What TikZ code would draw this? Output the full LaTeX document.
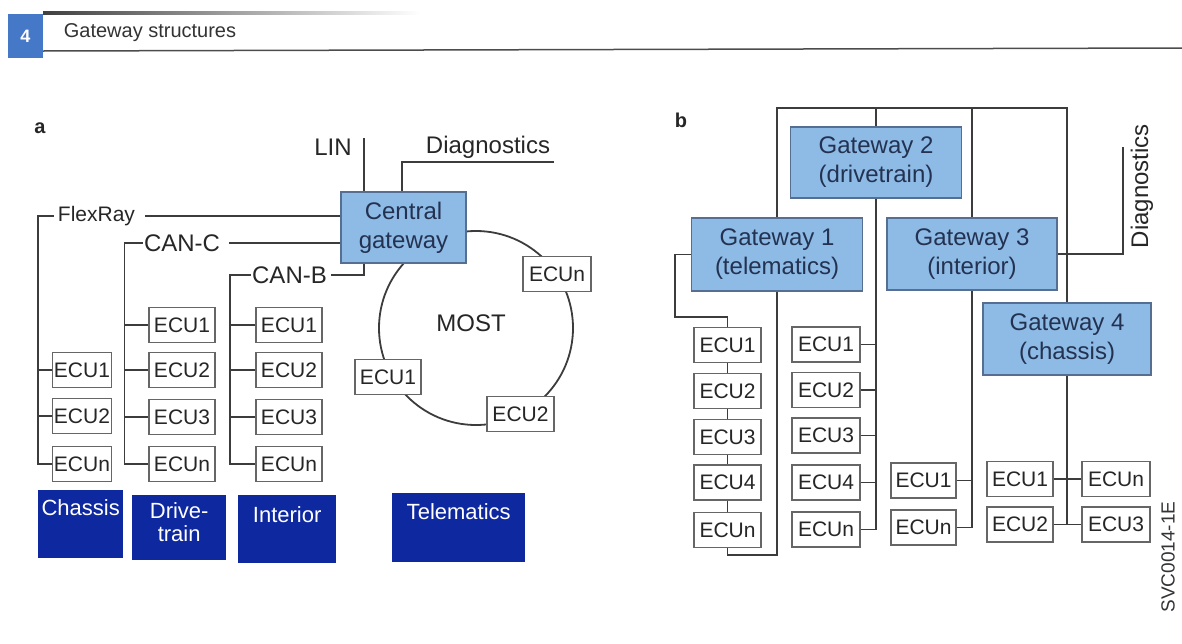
\documentclass[tikz,border=0pt]{standalone}
\usepackage{fontspec}
\setmainfont{Liberation Sans}
\definecolor{gwfill}{RGB}{142,186,230}
\definecolor{gwdraw}{RGB}{85,110,145}
\definecolor{gwtext}{RGB}{35,50,80}
\definecolor{domblue}{RGB}{14,40,160}
\definecolor{hdrblue}{RGB}{70,120,200}
\definecolor{linec}{RGB}{60,60,60}
\tikzset{
 bus/.style={draw=linec, line width=1.8pt},
 ecu/.style={draw=black!60, fill=white, line width=1.2pt, inner sep=0pt, minimum height=35pt, font=\fontsize{21}{23}\selectfont, text=black!85},
 gw/.style={draw=gwdraw, fill=gwfill, line width=1.2pt, inner sep=0pt, align=center, text=gwtext, font=\fontsize{24}{29}\selectfont},
 lbl/.style={inner sep=0pt, text=black!85, font=\fontsize{24}{28}\selectfont},
 dombox/.style={fill=domblue, inner sep=0pt, anchor=north west},
 domtxt/.style={text=white, inner sep=0pt, align=center, anchor=north, font=\fontsize{22}{23}\selectfont},
 panel/.style={inner sep=0pt, font=\fontsize{20}{22}\selectfont\bfseries, text=black!85},
}
\begin{document}
\begin{tikzpicture}[x=1pt,y=-1pt]
\useasboundingbox (0,0) rectangle (1182,643);
% ---------- header ----------
\shade[left color=black!75, right color=white] (43,11) rectangle (420,14);
\draw[black!70, line width=1.5pt] (43,51) -- (1182,48);
\fill[hdrblue] (8,14) rectangle (43,58);
\node[text=white, inner sep=0pt, font=\fontsize{18}{20}\selectfont\bfseries] (num) at (25.5,36) {4};
\node[inner sep=0pt, text=black!80, font=\fontsize{20}{22}\selectfont] (title) at (150,33) {Gateway structures};

% ---------- panel a ----------
\node[panel] (pa) at (40,128) {a};
\coordinate (mostc) at (476,328);
\draw[bus] (mostc) circle (97);
\node[lbl] (most) at (471,323) {MOST};

\node[gw, minimum width=125pt, minimum height=71pt] (cg) at (403.5,227.5) {Central\\gateway};

\node[lbl] (lin) at (333,147) {LIN};
\coordinate (linTop) at (364,138);
\draw[bus] (linTop) -- (linTop |- cg.north);

\node[lbl] (diagA) at (488,147) {Diagnostics};
\coordinate (diagAEnd) at (554,162);
\coordinate (diagAX) at (402,162);
\draw[bus] (diagAEnd) -- (diagAX) -- (diagAX |- cg.north);

\node[lbl, font=\fontsize{21}{24}\selectfont] (fr) at (96.5,216) {FlexRay};
\node[lbl] (canc) at (182,243) {CAN-C};
\node[lbl] (canb) at (289.5,275) {CAN-B};

% chassis ECUs
\node[ecu, minimum width=59pt] (ch1) at (82,370) {ECU1};
\node[ecu, minimum width=59pt] (ch2) at (82,416) {ECU2};
\node[ecu, minimum width=59pt] (ch3) at (82,464) {ECUn};
% drivetrain ECUs
\node[ecu, minimum width=66pt] (dt1) at (182,325) {ECU1};
\node[ecu, minimum width=66pt] (dt2) at (182,370) {ECU2};
\node[ecu, minimum width=66pt] (dt3) at (182,417) {ECU3};
\node[ecu, minimum width=66pt] (dt4) at (182,464) {ECUn};
% interior ECUs
\node[ecu, minimum width=66pt] (in1) at (289,325) {ECU1};
\node[ecu, minimum width=66pt] (in2) at (289,370) {ECU2};
\node[ecu, minimum width=66pt] (in3) at (289,417) {ECU3};
\node[ecu, minimum width=66pt] (in4) at (289,464) {ECUn};
% MOST ECUs
\node[ecu, minimum width=66pt] (m1) at (388,377) {ECU1};
\node[ecu, minimum width=67pt] (m2) at (520.5,414) {ECU2};
\node[ecu, minimum width=68pt] (mn) at (557,274) {ECUn};

% FlexRay bus
\coordinate (chBus) at (38,0);
\draw[bus] ([xshift=10pt]fr.east) -- (cg.west |- fr.east);
\draw[bus] ([xshift=-4pt]fr.west) -- (fr.west -| chBus) -- (chBus |- ch3) -- (ch3.west);
\draw[bus] (chBus |- ch1) -- (ch1.west);
\draw[bus] (chBus |- ch2) -- (ch2.west);
% CAN-C bus
\coordinate (dtBus) at (124.5,0);
\draw[bus] ([xshift=9pt]canc.east) -- (cg.west |- canc.east);
\draw[bus] ([xshift=-1pt]canc.west) -- (canc.west -| dtBus) -- (dtBus |- dt4) -- (dt4.west);
\draw[bus] (dtBus |- dt1) -- (dt1.west);
\draw[bus] (dtBus |- dt2) -- (dt2.west);
\draw[bus] (dtBus |- dt3) -- (dt3.west);
% CAN-B bus
\coordinate (inBus) at (230,0);
\draw[bus] ([xshift=4pt]canb.east) -- (linTop |- canb.east) -- (linTop |- cg.south);
\draw[bus] ([xshift=-1pt]canb.west) -- (canb.west -| inBus) -- (inBus |- in4) -- (in4.west);
\draw[bus] (inBus |- in1) -- (in1.west);
\draw[bus] (inBus |- in2) -- (in2.west);
\draw[bus] (inBus |- in3) -- (in3.west);

% domain boxes
\node[dombox, minimum width=85pt, minimum height=68pt] (dch) at (38,490) {};
\node[domtxt] (dchT) at ([yshift=-9pt]dch.north) {Chassis};
\node[dombox, minimum width=94pt, minimum height=65pt] (ddt) at (132,495) {};
\node[domtxt] (ddtT) at ([yshift=-7pt]ddt.north) {Drive-\\train};
\node[dombox, minimum width=98pt, minimum height=68pt] (din) at (238,495) {};
\node[domtxt] (dinT) at ([yshift=-11pt]din.north) {Interior};
\node[dombox, minimum width=133pt, minimum height=69pt] (dtm) at (392,493) {};
\node[domtxt] (dtmT) at ([yshift=-10pt]dtm.north) {Telematics};

% ---------- panel b ----------
\node[panel] (pb) at (681,120) {b};
\node[gw, minimum width=171pt, minimum height=71pt] (g2) at (876,162.5) {Gateway 2\\(drivetrain)};
\node[gw, minimum width=171pt, minimum height=73pt] (g1) at (777,254.5) {Gateway 1\\(telematics)};
\node[gw, minimum width=170pt, minimum height=72pt] (g3) at (972,254) {Gateway 3\\(interior)};
\node[gw, minimum width=168pt, minimum height=72pt] (g4) at (1067,339) {Gateway 4\\(chassis)};

\coordinate (topbus) at (0,108);
\draw[bus] (g1.north) -- (g1.north |- topbus) -- (g4.north |- topbus) -- (g4.north);
\draw[bus] (g2.north) -- (g2.north |- topbus);
\draw[bus] (g3.north) -- (g3.north |- topbus);

% diagnostics b
\node[lbl, rotate=90] (diagB) at (1142,186) {Diagnostics};
\coordinate (diagBTop) at (1123,147);
\draw[bus] (g3.east) -- (diagBTop |- g3.east) -- (diagBTop);

% column 1 (telematics)
\node[ecu, minimum width=67pt] (a1) at (727.5,345) {ECU1};
\node[ecu, minimum width=67pt] (a2) at (727.5,391) {ECU2};
\node[ecu, minimum width=67pt] (a3) at (727.5,437) {ECU3};
\node[ecu, minimum width=67pt] (a4) at (727.5,482.5) {ECU4};
\node[ecu, minimum width=67pt] (a5) at (727.5,530) {ECUn};
\draw[bus] (a1.south) -- (a2.north);
\draw[bus] (a2.south) -- (a3.north);
\draw[bus] (a3.south) -- (a4.north);
\draw[bus] (a4.south) -- (a5.north);
\coordinate (g1left) at (675,0);
\coordinate (g1turn) at (0,317);
\draw[bus] (g1.west) -- (g1.west -| g1left) -- (g1left |- g1turn) -- (a1.north |- g1turn) -- (a1.north);
\coordinate (g1bot) at (0,555);
\draw[bus] (g1.south) -- (g1.south |- g1bot) -- (a5.south |- g1bot) -- (a5.south);

% column 2 (drivetrain)
\node[ecu, minimum width=68pt] (b1) at (826,344.5) {ECU1};
\node[ecu, minimum width=68pt] (b2) at (826,390) {ECU2};
\node[ecu, minimum width=68pt] (b3) at (826,435.5) {ECU3};
\node[ecu, minimum width=68pt] (b4) at (826,482.5) {ECU4};
\node[ecu, minimum width=68pt] (b5) at (826,529.5) {ECUn};
\draw[bus] (g2.south) -- (g2.south |- b5) -- (b5.east);
\draw[bus] (b1.east) -- (b1 -| g2.south);
\draw[bus] (b2.east) -- (b2 -| g2.south);
\draw[bus] (b3.east) -- (b3 -| g2.south);
\draw[bus] (b4.east) -- (b4 -| g2.south);

% column 3 (interior)
\node[ecu, minimum width=65pt] (c1) at (923.5,480.5) {ECU1};
\node[ecu, minimum width=65pt] (c2) at (923.5,527.5) {ECUn};
\draw[bus] (g3.south) -- (g3.south |- c2) -- (c2.east);
\draw[bus] (c1.east) -- (c1 -| g3.south);

% column 4 (chassis)
\node[ecu, minimum width=66pt] (d1) at (1020,479) {ECU1};
\node[ecu, minimum width=68pt] (dn) at (1116,479) {ECUn};
\node[ecu, minimum width=66pt] (d2) at (1020,524.5) {ECU2};
\node[ecu, minimum width=68pt] (d3) at (1116,524.5) {ECU3};
\draw[bus] (g4.south) -- (g4.south |- d2);
\draw[bus] (d1.east) -- (dn.west);
\draw[bus] (d2.east) -- (d3.west);

\node[inner sep=0pt, rotate=90, text=black!80, font=\fontsize{19}{21}\selectfont] (svc) at (1168,557) {SVC0014-1E};
\end{tikzpicture}
\end{document}
